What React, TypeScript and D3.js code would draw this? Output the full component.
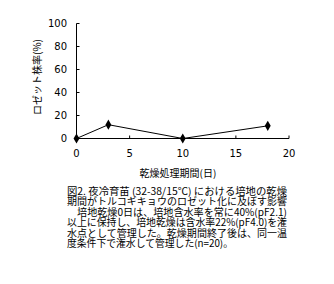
import React from "react";
import * as d3 from "d3";

const days = [0, 3, 10, 18];
const rosetteRate = [0, 12, 0, 11];
const xTicks = [0, 5, 10, 15, 20];
const yTicks = [0, 20, 40, 60, 80, 100];
const xTitle = "乾燥処理期間(日)";
const yTitle = "ロゼット株率(%)";
const caption = [
  "図2. 夜冷育苗 (32-38/15℃) における培地の乾燥",
  "期間がトルコギキョウのロゼット化に及ぼす影響",
  "　培地乾燥0日は、培地含水率を常に40%(pF2.1)",
  "以上に保持し、培地乾燥は含水率22%(pF4.0)を潅",
  "水点として管理した。乾燥期間終了後は、同一温",
  "度条件下で潅水して管理した(n=20)。",
];
const captionWidths = [220, 220, 220, 220, 220, 166];

export default function App() {
  const W = 334, H = 284;
  const x = d3.scaleLinear().domain([0, 20]).range([76.5, 289]);
  const y = d3.scaleLinear().domain([0, 100]).range([138.5, 23.5]);
  const pts = days.map((d, i) => [x(d), y(rosetteRate[i])] as [number, number]);
  const line = d3.line()(pts) || "";
  const font = "'Noto Sans CJK JP', sans-serif";
  return (
    <svg width={W} height={H} style={{ position: "absolute", left: 0, top: 0, background: "#fff" }}>
      <rect width={W} height={H} fill="#fff" />
      <line x1={x(0)} x2={x(0)} y1={y(100)} y2={y(0)} stroke="#000" strokeWidth={1} />
      <line x1={x(0)} x2={x(20)} y1={y(0)} y2={y(0)} stroke="#000" strokeWidth={1} />
      {yTicks.map((t) => (
        <g key={"y" + t}>
          <line x1={x(0)} x2={x(0) + 3} y1={y(t)} y2={y(t)} stroke="#000" />
          <text x={67} y={y(t)} dy="0.35em" textAnchor="end" fontSize={10} fontFamily="'DejaVu Sans', sans-serif">
            {t}
          </text>
        </g>
      ))}
      {xTicks.map((t) => (
        <g key={"x" + t}>
          <line x1={x(t)} x2={x(t)} y1={y(0)} y2={y(0) - 3} stroke="#000" />
          <text x={x(t)} y={153} dy="0.35em" textAnchor="middle" fontSize={10} fontFamily="'DejaVu Sans', sans-serif">
            {t}
          </text>
        </g>
      ))}
      <path d={line} fill="none" stroke="#000" strokeWidth={1} />
      {pts.map((p, i) => (
        <path key={i} d={d3.symbol(d3.symbolDiamond, 30)() || ""} transform={`translate(${p[0]},${p[1]})`} fill="#000" />
      ))}
      <text x={37} y={77} dy="0.35em" textAnchor="middle" fontSize={10} fontFamily={font} transform="rotate(-90,37,77)">
        {yTitle}
      </text>
      <text x={178} y={173} dy="0.35em" textAnchor="middle" fontSize={10} fontFamily={font}>
        {xTitle}
      </text>
      {caption.map((c, i) => (
        <text
          key={i}
          x={67}
          y={191 + i * 10.5}
          dy="0.35em"
          fontSize={10}
          fontFamily={font}
          textLength={captionWidths[i]}
          lengthAdjust="spacingAndGlyphs"
        >
          {c}
        </text>
      ))}
    </svg>
  );
}
